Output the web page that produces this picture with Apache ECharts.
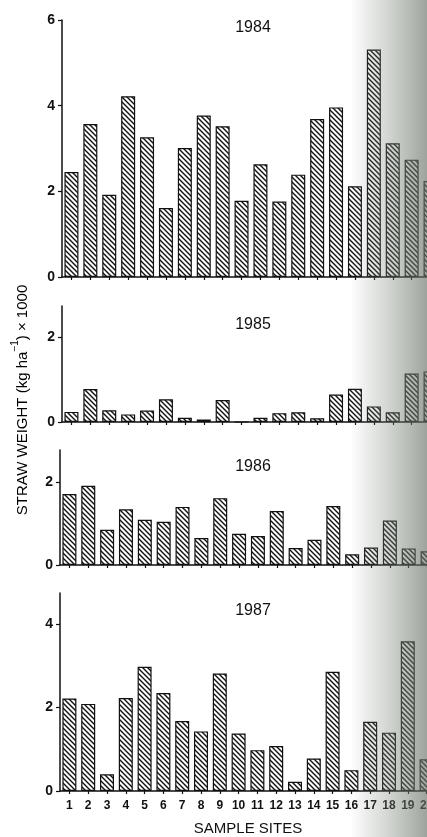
<!DOCTYPE html>
<html>
<head>
<meta charset="utf-8">
<script src="https://cdn.jsdelivr.net/npm/echarts@6/dist/echarts.min.js"></script>
<style>
  html, body { margin: 0; padding: 0; background: #fff; }
  #main { width: 427px; height: 837px; }
</style>
</head>
<body>
<div id="main"></div>
<script>
// ===================== data =====================
const sites = ['1', '2', '3', '4', '5', '6', '7', '8', '9', '10',
  '11', '12', '13', '14', '15', '16', '17', '18', '19', '20']
const years = ['1984', '1985', '1986', '1987']
const straw1984 = [2.45, 3.57, 1.92, 4.22, 3.26, 1.61, 3.01, 3.77, 3.52, 1.78,
  2.63, 1.76, 2.39, 3.69, 3.96, 2.12, 5.31, 3.12, 2.74, 2.24]
const straw1985 = [0.24, 0.78, 0.28, 0.18, 0.27, 0.54, 0.10, 0.06, 0.52, 0,
  0.10, 0.21, 0.23, 0.09, 0.65, 0.79, 0.37, 0.23, 1.15, 1.20]
const straw1986 = [1.71, 1.91, 0.85, 1.34, 1.09, 1.04, 1.40, 0.65, 1.61, 0.75,
  0.70, 1.30, 0.41, 0.61, 1.42, 0.26, 0.42, 1.07, 0.40, 0.33]
const straw1987 = [2.22, 2.09, 0.40, 2.23, 2.98, 2.35, 1.68, 1.43, 2.82, 1.38,
  0.98, 1.08, 0.22, 0.78, 2.86, 0.50, 1.66, 1.40, 3.59, 0.76]
const yTicks1984 = [0, 2, 4, 6]
const yTicks1985 = [0, 2]
const yTicks1986 = [0, 2]
const yTicks1987 = [0, 2, 4]
const yMax = [6, 2.75, 2.77, 4.75]

// ===================== hatch pattern =====================
const hatch = document.createElement('canvas')
hatch.width = 5
hatch.height = 5
const hctx = hatch.getContext('2d')
hctx.fillStyle = '#fff'
hctx.fillRect(0, 0, 5, 5)
hctx.strokeStyle = '#111'
hctx.lineWidth = 1.4
hctx.beginPath()
hctx.moveTo(-1, -1); hctx.lineTo(6, 6)
hctx.moveTo(-1, 4); hctx.lineTo(1, 6)
hctx.moveTo(4, -1); hctx.lineTo(6, 1)
hctx.stroke()

const font = '"Liberation Sans", Arial, sans-serif'
// plot area runs past the right edge: the scanned page is cut at site 20
const panels = [
  { data: straw1984, ticks: yTicks1984, top: 20, height: 257, left: 62, width: 378, title: 15 },
  { data: straw1985, ticks: yTicks1985, top: 306, height: 116, left: 62, width: 378, title: 312 },
  { data: straw1986, ticks: yTicks1986, top: 450, height: 115, left: 60, width: 377, title: 454 },
  { data: straw1987, ticks: yTicks1987, top: 593, height: 198, left: 60, width: 376, title: 598 },
]

const myChart = echarts.init(document.getElementById('main'))
const option = {
  backgroundColor: '#fff',
  animation: false,
  title: panels.map((p, i) => ({
    text: years[i],
    left: 248,
    top: p.title,
    textAlign: 'center',
    textStyle: { fontFamily: font, fontSize: 16, fontWeight: 'normal', color: '#111' },
  })),
  grid: panels.map((p) => ({
    left: p.left,
    top: p.top,
    width: p.width,
    height: p.height,
    outerBoundsMode: 'none',
  })),
  xAxis: panels.map((p, i) => ({
    type: 'category',
    gridIndex: i,
    data: sites,
    axisLine: { show: true, lineStyle: { color: '#111', width: 1.5 } },
    axisTick: { show: true, alignWithLabel: true, length: 3, lineStyle: { color: '#111', width: 1.2 } },
    axisLabel: {
      show: i === 3,
      interval: 0,
      margin: 9,
      fontFamily: font,
      fontSize: 12,
      fontWeight: 'bold',
      color: '#111',
    },
    name: i === 3 ? 'SAMPLE SITES' : '',
    nameLocation: 'middle',
    nameGap: 30,
    nameTextStyle: { fontFamily: font, fontSize: 15, color: '#111' },
  })),
  yAxis: panels.map((p, i) => ({
    type: 'value',
    gridIndex: i,
    min: 0,
    max: yMax[i],
    splitLine: { show: false },
    axisLine: { show: true, lineStyle: { color: '#111', width: 1.5 } },
    axisTick: { show: true, length: 4, customValues: p.ticks, lineStyle: { color: '#111', width: 1.2 } },
    axisLabel: {
      customValues: p.ticks,
      margin: 7,
      fontFamily: font,
      fontSize: 14,
      fontWeight: 'bold',
      color: '#111',
    },
  })),
  series: panels.map((p, i) => ({
    name: years[i],
    type: 'bar',
    xAxisIndex: i,
    yAxisIndex: i,
    data: p.data,
    barWidth: 14,
    itemStyle: {
      color: { image: hatch, repeat: 'repeat' },
      borderColor: '#111',
      borderWidth: 1.2,
    },
  })),
  graphic: [
    {
      type: 'text',
      x: 20,
      y: 400,
      rotation: Math.PI / 2,
      style: {
        text: '{a|STRAW WEIGHT (kg ha}{s|−1}{a|) × 1000}',
        align: 'center',
        verticalAlign: 'middle',
        rich: {
          a: { fontFamily: font, fontSize: 15, color: '#111', lineHeight: 20, verticalAlign: 'bottom' },
          s: { fontFamily: font, fontSize: 10, color: '#111', lineHeight: 20, verticalAlign: 'top' },
        },
      },
    },
    {
      // scan shadow on the right edge
      type: 'rect',
      silent: true,
      z: 100,
      shape: { x: 350, y: 0, width: 77, height: 837 },
      style: {
        fill: {
          type: 'linear', x: 0, y: 0, x2: 1, y2: 0,
          colorStops: [
            { offset: 0, color: 'rgba(120,130,118,0)' },
            { offset: 0.45, color: 'rgba(120,130,118,0.3)' },
            { offset: 1, color: 'rgba(105,115,103,0.65)' },
          ],
        },
      },
    },
  ],
}
myChart.setOption(option)
</script>
</body>
</html>
